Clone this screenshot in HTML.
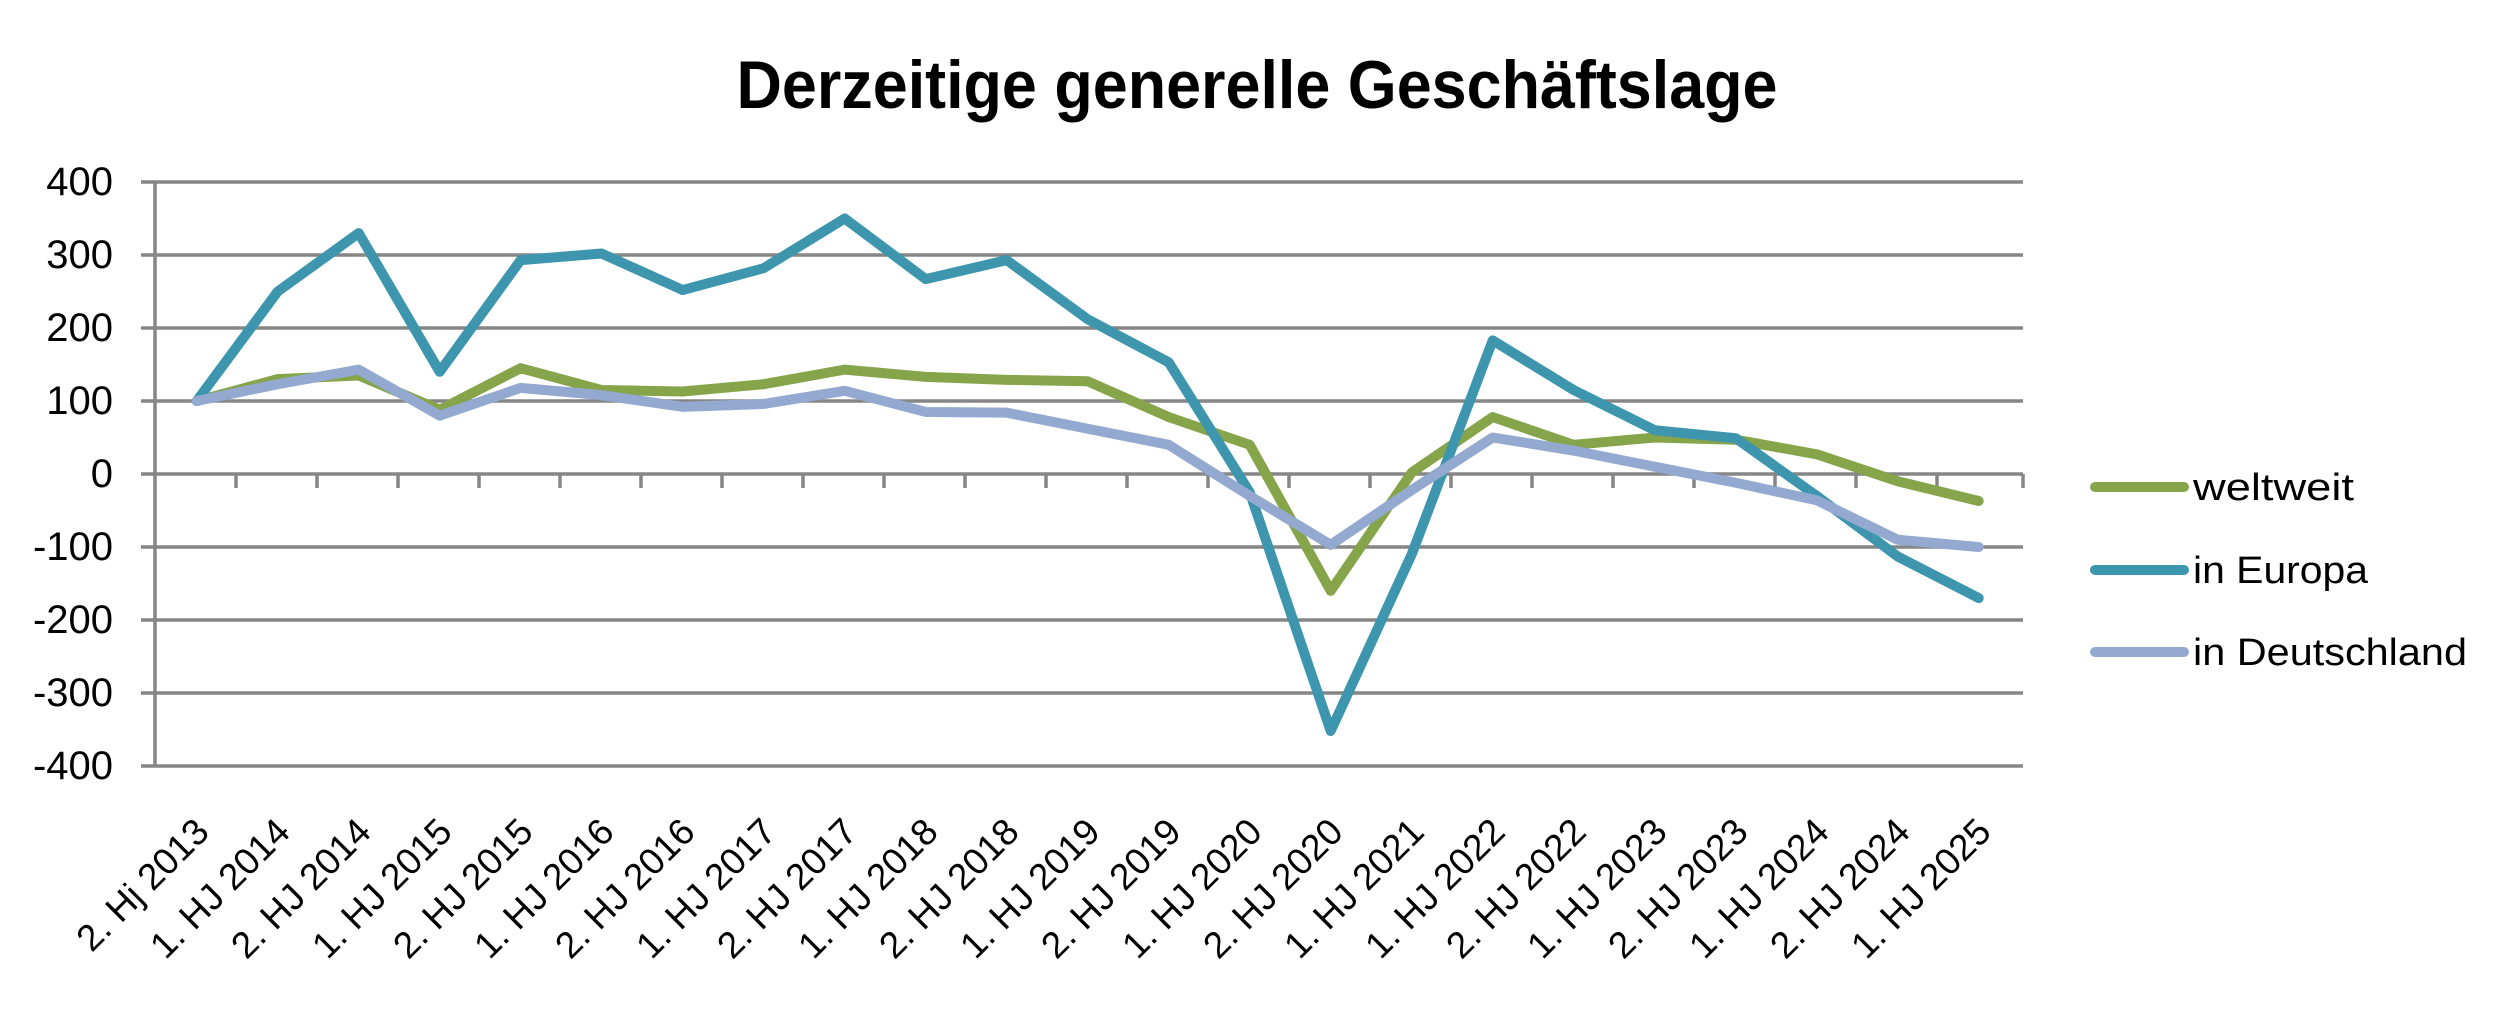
<!DOCTYPE html>
<html><head><meta charset="utf-8"><style>
html,body{margin:0;padding:0;background:#fff;}
svg{display:block;}
text{font-family:"Liberation Sans",sans-serif;fill:#000;}
</style></head><body>
<svg width="2516" height="1009" viewBox="0 0 2516 1009" xmlns="http://www.w3.org/2000/svg">
<rect width="2516" height="1009" fill="#fff"/>
<text x="1257" y="108" font-size="68" font-weight="bold" text-anchor="middle" textLength="1041" lengthAdjust="spacingAndGlyphs">Derzeitige generelle Geschäftslage</text>
<g stroke="#868686" stroke-width="3.5">
<line x1="141" y1="182" x2="2023" y2="182"/>
<line x1="141" y1="255" x2="2023" y2="255"/>
<line x1="141" y1="328" x2="2023" y2="328"/>
<line x1="141" y1="401" x2="2023" y2="401"/>
<line x1="141" y1="474" x2="2023" y2="474"/>
<line x1="141" y1="547" x2="2023" y2="547"/>
<line x1="141" y1="620" x2="2023" y2="620"/>
<line x1="141" y1="693" x2="2023" y2="693"/>
<line x1="141" y1="766" x2="2023" y2="766"/>
<line x1="155" y1="182" x2="155" y2="766"/>
<path d="M236,474v14M317,474v14M398,474v14M479,474v14M560,474v14M641,474v14M722,474v14M803,474v14M884,474v14M965,474v14M1046,474v14M1127,474v14M1208,474v14M1289,474v14M1370,474v14M1451,474v14M1532,474v14M1613,474v14M1694,474v14M1775,474v14M1856,474v14M1937,474v14M2023,474v14"/>
</g>
<g font-size="40" text-anchor="end">
<text x="113" y="195">400</text>
<text x="113" y="268">300</text>
<text x="113" y="341">200</text>
<text x="113" y="414">100</text>
<text x="113" y="487">0</text>
<text x="113" y="560">-100</text>
<text x="113" y="633">-200</text>
<text x="113" y="706">-300</text>
<text x="113" y="779">-400</text>
</g>
<g transform="matrix(81 0 0 -0.73 196.7 474)" fill="none" stroke-width="10" stroke-linejoin="round" stroke-linecap="round">
<polyline vector-effect="non-scaling-stroke" stroke="#86A44A" points="0,100 1,130 2,135 3,88 4,145 5,115 6,113 7,123 8,143 9,133 10,129 11,127 12,78 13,40 14,-160 15,2 16,78 17,40 18,50 19,47 20,27 21,-10 22,-37"/>
<polyline vector-effect="non-scaling-stroke" stroke="#3D96AE" points="0,100 1,250 2,330 3,140 4,293 5,302 6,252 7,282 8,350 9,267 10,293 11,212 12,153 13,-25 14,-352 15,-110 16,183 17,115 18,60 19,49 20,-30 21,-113 22,-170"/>
<polyline vector-effect="non-scaling-stroke" stroke="#93A9CF" points="0,100 1,123 2,143 3,80 4,118 5,108 6,92 7,96 8,114 9,85 10,84 11,62 12,40 13,-30 14,-97 15,-22 16,50 17,32 18,10 19,-12 20,-36 21,-90 22,-100"/>
</g>
<g font-size="37" text-anchor="end">
<text transform="translate(211,834) rotate(-45)">2. Hj 2013</text>
<text transform="translate(292,834) rotate(-45)">1. HJ 2014</text>
<text transform="translate(373,834) rotate(-45)">2. HJ 2014</text>
<text transform="translate(454,834) rotate(-45)">1. HJ 2015</text>
<text transform="translate(535,834) rotate(-45)">2. HJ 2015</text>
<text transform="translate(616,834) rotate(-45)">1. HJ 2016</text>
<text transform="translate(697,834) rotate(-45)">2. HJ 2016</text>
<text transform="translate(778,834) rotate(-45)">1. HJ 2017</text>
<text transform="translate(859,834) rotate(-45)">2. HJ 2017</text>
<text transform="translate(940,834) rotate(-45)">1. HJ 2018</text>
<text transform="translate(1021,834) rotate(-45)">2. HJ 2018</text>
<text transform="translate(1102,834) rotate(-45)">1. HJ 2019</text>
<text transform="translate(1183,834) rotate(-45)">2. HJ 2019</text>
<text transform="translate(1264,834) rotate(-45)">1. HJ 2020</text>
<text transform="translate(1345,834) rotate(-45)">2. HJ 2020</text>
<text transform="translate(1426,834) rotate(-45)">1. HJ 2021</text>
<text transform="translate(1507,834) rotate(-45)">1. HJ 2022</text>
<text transform="translate(1588,834) rotate(-45)">2. HJ 2022</text>
<text transform="translate(1669,834) rotate(-45)">1. HJ 2023</text>
<text transform="translate(1750,834) rotate(-45)">2. HJ 2023</text>
<text transform="translate(1831,834) rotate(-45)">1. HJ 2024</text>
<text transform="translate(1912,834) rotate(-45)">2. HJ 2024</text>
<text transform="translate(1993,834) rotate(-45)">1. HJ 2025</text>
</g>
<g stroke-width="10" stroke-linecap="round">
<line x1="2095" y1="487" x2="2184" y2="487" stroke="#86A44A"/>
<line x1="2095" y1="570" x2="2184" y2="570" stroke="#3D96AE"/>
<line x1="2095" y1="652" x2="2184" y2="652" stroke="#93A9CF"/>
</g>
<g font-size="38">
<text x="2193" y="500" textLength="161" lengthAdjust="spacingAndGlyphs">weltweit</text>
<text x="2193" y="583" textLength="175" lengthAdjust="spacingAndGlyphs">in Europa</text>
<text x="2193" y="665" textLength="274" lengthAdjust="spacingAndGlyphs">in Deutschland</text>
</g>
</svg>
</body></html>
